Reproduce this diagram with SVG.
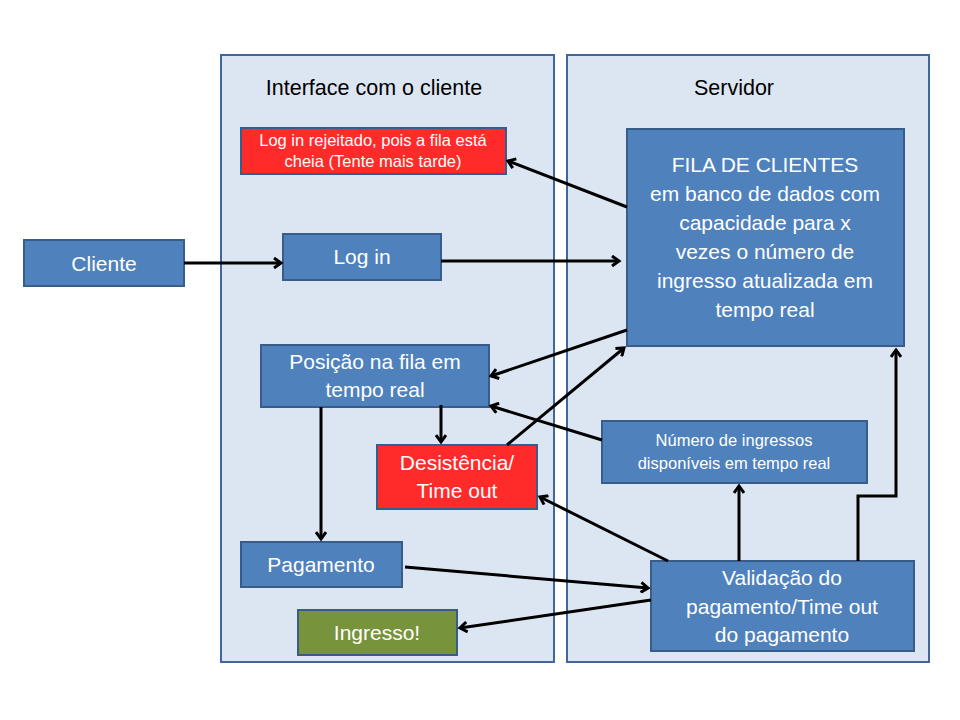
<svg xmlns="http://www.w3.org/2000/svg" width="960" height="720" viewBox="0 0 960 720">
<style>
.panel{fill:#dce6f2;stroke:#41669a;stroke-width:2}
.box{fill:#4f81bd;stroke:#385d8a;stroke-width:2}
.red{fill:#ff2a2a;stroke:#385d8a;stroke-width:2}
.green{fill:#77933c;stroke:#385d8a;stroke-width:2}
text{font-family:"Liberation Sans",Arial,sans-serif;text-anchor:middle}
.w{fill:#ffffff}
.t{fill:#000000;font-size:21.5px}
.l{font-size:21px}
.s{font-size:16.5px}
.c line,.c polyline{stroke:#000;stroke-width:3;fill:none;marker-end:url(#a)}
</style>
<defs>
<marker id="a" markerWidth="12" markerHeight="12" refX="9" refY="6" orient="auto" markerUnits="userSpaceOnUse">
<polyline points="2,1 9,6 2,11" fill="none" stroke="#000" stroke-width="3"/>
</marker>
</defs>
<rect width="960" height="720" fill="#ffffff"/>
<g id="panel-interface"><rect class="panel" x="221" y="55" width="333" height="607"/><text class="t" x="374" y="95">Interface com o cliente</text></g>
<g id="panel-servidor"><rect class="panel" x="567" y="55" width="362" height="607"/><text class="t" x="734" y="95">Servidor</text></g>
<g id="rejeitado"><rect class="red" x="241" y="128" width="265" height="46"/><text class="w s" x="373" y="146">Log in rejeitado, pois a fila está</text><text class="w s" x="373" y="167">cheia (Tente mais tarde)</text></g>
<g id="fila"><rect class="box" x="627" y="129" width="277" height="217"/>
<text class="w l" x="765" y="172">FILA DE CLIENTES</text>
<text class="w l" x="765" y="201">em banco de dados com</text>
<text class="w l" x="765" y="230">capacidade para x</text>
<text class="w l" x="765" y="259">vezes o número de</text>
<text class="w l" x="765" y="288">ingresso atualizada em</text>
<text class="w l" x="765" y="317">tempo real</text></g>
<g id="cliente"><rect class="box" x="24" y="240" width="160" height="46"/><text class="w l" x="104" y="271">Cliente</text></g>
<g id="login"><rect class="box" x="283" y="234" width="158" height="46"/><text class="w l" x="362" y="264">Log in</text></g>
<g id="posicao"><rect class="box" x="261" y="345" width="228" height="62"/><text class="w l" x="375" y="369">Posição na fila em</text><text class="w l" x="375" y="397">tempo real</text></g>
<g id="desistencia"><rect class="red" x="377" y="445" width="160" height="64"/><text class="w l" x="457" y="470">Desistência/</text><text class="w l" x="457" y="498">Time out</text></g>
<g id="numero"><rect class="box" x="602" y="421" width="265" height="62"/><text class="w s" x="734" y="446">Número de ingressos</text><text class="w s" x="734" y="469">disponíveis em tempo real</text></g>
<g id="pagamento"><rect class="box" x="241" y="542" width="161" height="45"/><text class="w l" x="321" y="572">Pagamento</text></g>
<g id="ingresso"><rect class="green" x="298" y="610" width="159" height="45"/><text class="w l" x="377" y="640">Ingresso!</text></g>
<g id="validacao"><rect class="box" x="651" y="561" width="263" height="90"/><text class="w l" x="782" y="585">Validação do</text><text class="w l" x="782" y="614">pagamento/Time out</text><text class="w l" x="782" y="642">do pagamento</text></g>
<g class="c" id="connectors">
<line x1="184" y1="263" x2="281" y2="263"/>
<line x1="441" y1="261" x2="619" y2="261"/>
<line x1="627" y1="207" x2="508" y2="161"/>
<line x1="627" y1="330" x2="491" y2="376"/>
<line x1="507" y1="445" x2="624" y2="348"/>
<line x1="602" y1="440" x2="491" y2="406"/>
<line x1="441" y1="405" x2="441" y2="442"/>
<line x1="321" y1="407" x2="321" y2="539"/>
<line x1="668" y1="561" x2="540" y2="497"/>
<line x1="405" y1="567" x2="648" y2="588"/>
<line x1="651" y1="600" x2="460" y2="628"/>
<line x1="739" y1="561" x2="739" y2="486"/>
<polyline points="858,561 858,496 896,496 896,350"/>
</g>
</svg>
